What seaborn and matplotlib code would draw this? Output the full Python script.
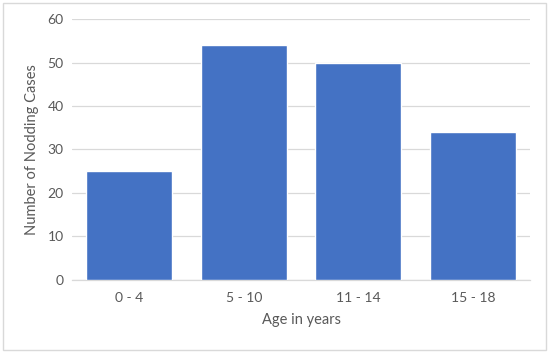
import matplotlib
matplotlib.use("Agg")
import matplotlib.pyplot as plt
import seaborn as sns
import pandas as pd
from matplotlib.patches import Rectangle

# Data
age_groups = ["0 - 4", "5 - 10", "11 - 14", "15 - 18"]
cases = [25, 54, 50, 34]

df = pd.DataFrame({"Age": age_groups, "Cases": cases})

sns.set_style("white")
plt.rcParams["font.family"] = ["Lato", "DejaVu Sans"]

text_color = "#595959"
grid_color = "#D9D9D9"

fig = plt.figure(figsize=(5.5, 3.53), dpi=100)
ax = fig.add_axes([0.131, 0.207, 0.833, 0.739])

sns.barplot(data=df, x="Age", y="Cases", color="#4472C4", width=0.75,
            saturation=1, ax=ax, zorder=3)

ax.set_ylim(0, 60)
ax.set_yticks(range(0, 61, 10))
ax.set_xlim(-0.5, len(age_groups) - 0.5)
ax.yaxis.grid(True, color=grid_color, linewidth=0.9, zorder=0)
ax.set_axisbelow(True)
for side in ["top", "right", "left"]:
    ax.spines[side].set_visible(False)
ax.spines["bottom"].set_color(grid_color)
ax.spines["bottom"].set_linewidth(0.9)

ax.tick_params(axis="both", length=0, labelsize=10, colors=text_color)
ax.tick_params(axis="y", pad=6)
ax.tick_params(axis="x", pad=9)
ax.set_xlabel("Age in years", fontsize=10.5, color=text_color, labelpad=6)
ax.set_ylabel("Number of Nodding Cases", fontsize=10.5, color=text_color, labelpad=6)

# light border around the chart area
fig.patches.append(Rectangle((0.005, 0.008), 0.988, 0.984, transform=fig.transFigure,
                             fill=False, edgecolor="#D9D9D9", linewidth=1.0))

fig.savefig("out.png", dpi=100)
